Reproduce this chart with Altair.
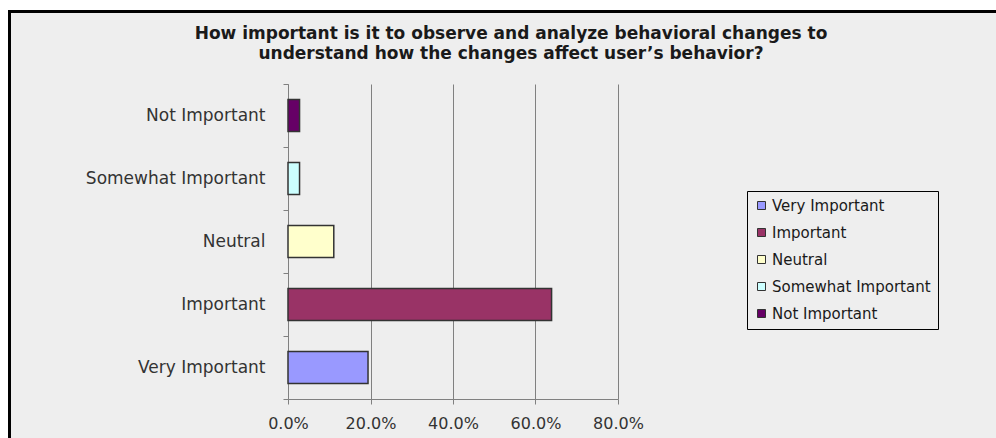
import altair as alt
import pandas as pd

# Survey responses (share of respondents)
categories = ["Very Important", "Important", "Neutral", "Somewhat Important", "Not Important"]
shares = [0.194, 0.639, 0.111, 0.028, 0.028]
colors = ["#9999FF", "#993366", "#FFFFCC", "#CCFFFF", "#660066"]
tick_values = [0.0, 0.2, 0.4, 0.6, 0.8]
title_lines = [
    "How important is it to observe and analyze behavioral changes to",
    "understand how the changes affect user\u2019s behavior?",
]

FONT = "DejaVu Sans"
GRID = "#808080"
TEXT = "#333333"

df = pd.DataFrame({"response": categories, "share": shares})

bars = alt.Chart(df).mark_bar(
    stroke="#333333", strokeWidth=1.5, height=alt.RelativeBandSize(0.51)
).encode(
    x=alt.X(
        "share:Q",
        scale=alt.Scale(domain=[0, 0.8], nice=False, zero=True),
        axis=alt.Axis(
            values=tick_values, format=".1%", title=None,
            grid=True, gridColor=GRID, gridWidth=1,
            domainColor=GRID, tickColor=GRID, tickSize=5,
            labelFont=FONT, labelFontSize=16, labelColor=TEXT,
            labelPadding=11, labelFlush=False,
        ),
    ),
    y=alt.Y(
        "response:N",
        sort=categories[::-1],
        scale=alt.Scale(paddingInner=0, paddingOuter=0),
        axis=alt.Axis(
            title=None, tickBand="extent", grid=False,
            domainColor=GRID, tickColor=GRID, tickSize=5,
            labelFont=FONT, labelFontSize=17, labelColor=TEXT,
            labelPadding=18, labelLimit=300,
        ),
    ),
    color=alt.Color(
        "response:N",
        scale=alt.Scale(domain=categories, range=colors),
        legend=alt.Legend(
            title=None, orient="none", legendX=459, legendY=107,
            strokeColor="#000000", padding=7,
            symbolType="square", symbolSize=64,
            symbolStrokeColor="#333333", symbolStrokeWidth=1,
            labelFont=FONT, labelFontSize=15, labelColor="#1a1a1a",
            labelOffset=3, rowPadding=11, labelLimit=300,
        ),
    ),
)

# Page frame: white margin strips and the black outline around the chart
frame_src = alt.Data(values=[{"k": 0}])
strip_left = alt.Chart(frame_src).mark_rect(color="white").encode(
    x=alt.value(-288), x2=alt.value(-280), y=alt.value(-84), y2=alt.value(354)
)
strip_top = alt.Chart(frame_src).mark_rect(color="white").encode(
    x=alt.value(-288), x2=alt.value(708), y=alt.value(-84), y2=alt.value(-74)
)
outline = alt.Chart(frame_src).mark_rect(
    filled=False, stroke="#000000", strokeWidth=3
).encode(
    x=alt.value(-278.5), x2=alt.value(720), y=alt.value(-72.5), y2=alt.value(370)
)

chart = alt.layer(bars, strip_left, strip_top, outline).properties(
    width=330,
    height=315,
    padding={"left": 288, "top": 84, "right": 378, "bottom": 39},
    autosize=alt.AutoSizeParams(type="none"),
    title=alt.TitleParams(
        text=title_lines, font=FONT, fontSize=17, fontWeight="bold",
        color="#1a1a1a", anchor="middle", frame="group", dx=58,
        offset=0, dy=63, lineHeight=20,
    ),
).configure(background="#eeeeee").configure_view(stroke=None)

chart.save("out.html", embed_options={"renderer": "svg", "actions": False})
